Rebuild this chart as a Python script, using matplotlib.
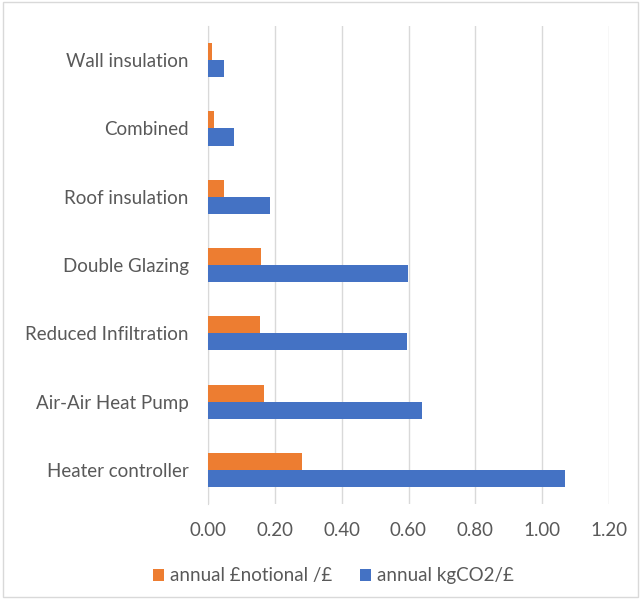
import matplotlib.pyplot as plt
import numpy as np
from matplotlib.patches import Rectangle

plt.rcParams['font.family'] = ['Lato', 'DejaVu Sans']

categories = ['Heater controller', 'Air-Air Heat Pump', 'Reduced Infiltration',
              'Double Glazing', 'Roof insulation', 'Combined', 'Wall insulation']
notional = [0.282, 0.168, 0.156, 0.158, 0.047, 0.019, 0.012]
kgco2 = [1.067, 0.639, 0.596, 0.599, 0.187, 0.077, 0.047]
xticks = [0.0, 0.2, 0.4, 0.6, 0.8, 1.0, 1.2]

orange = '#ED7D31'
blue = '#4472C4'
txt = '#595959'

fig = plt.figure(figsize=(6.41, 5.99), dpi=100)
ax = fig.add_axes([208 / 641, 1 - 504 / 599, (609 - 208) / 641, (504 - 26) / 599])

y = np.arange(len(categories))
h = 0.25
ax.barh(y + h / 2, notional, height=h, color=orange, label='annual £notional /£', zorder=3)
ax.barh(y - h / 2, kgco2, height=h, color=blue, label='annual kgCO2/£', zorder=3)

ax.set_xlim(0, 1.2)
ax.set_ylim(-0.5, len(categories) - 0.5)
ax.set_xticks(xticks)
ax.set_xticklabels(['%.2f' % v for v in xticks])
ax.set_yticks(y)
ax.set_yticklabels(categories)
ax.tick_params(axis='both', length=0, labelsize=13.5, colors=txt)
ax.tick_params(axis='x', pad=13)
ax.tick_params(axis='y', pad=14)
ax.grid(axis='x', color='#d9d9d9', linewidth=1, zorder=0)
for s in ['top', 'right', 'bottom']:
    ax.spines[s].set_visible(False)
ax.spines['left'].set_color('#d9d9d9')

leg = fig.legend(loc='center', bbox_to_anchor=(0.52, 1 - 576 / 599), ncol=2, frameon=False,
                 fontsize=13.5, handlelength=0.6, handleheight=0.6, columnspacing=1.5,
                 handletextpad=0.3)
for t in leg.get_texts():
    t.set_color(txt)

fig.patches.append(Rectangle((0.004, 0.003), 0.992, 0.994, transform=fig.transFigure,
                             fill=False, edgecolor='#d9d9d9', linewidth=1))

fig.savefig('out.png', dpi=100)
